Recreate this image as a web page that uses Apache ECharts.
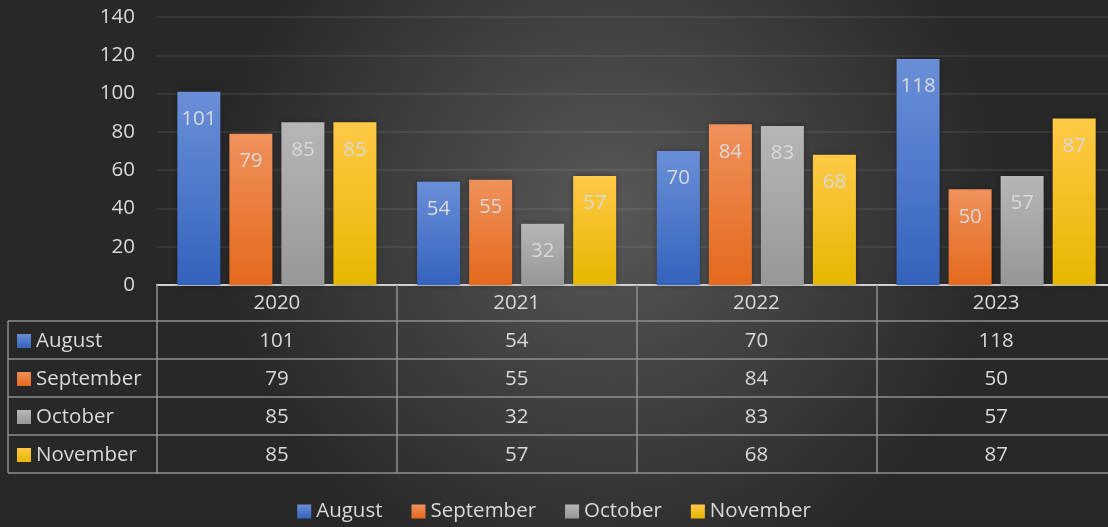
<!DOCTYPE html>
<html>
<head>
<meta charset="utf-8">
<script src="https://cdn.jsdelivr.net/npm/echarts@6/dist/echarts.min.js"></script>
<style>
  html, body { margin: 0; padding: 0; background: #2b2b2b; }
  #chart { width: 1108px; height: 527px; }
</style>
</head>
<body>
<div id="chart"></div>
<script>
// data
var years = ['2020', '2021', '2022', '2023'];
var seriesNames = ['August', 'September', 'October', 'November'];
var august = [101, 54, 70, 118];
var september = [79, 55, 84, 50];
var october = [85, 32, 83, 57];
var november = [85, 57, 68, 87];
var yTicks = [0, 20, 40, 60, 80, 100, 120, 140];

var values = [august, september, october, november];
var gradients = [
  ['#6a8fd8', '#3463bd'],
  ['#f0915c', '#e4691c'],
  ['#b6b6b6', '#979797'],
  ['#ffc946', '#e6b700']
];
var textColor = '#d9d9d9';
var font = 'Open Sans';
var fs = 20.5;
var lineColor = '#8e8e8e';

// layout of the grid and table
var gridLeft = 157, gridTop = 17, gridBottom = 242, gridWidth = 959;
var headH = 36, rowH = 38, tableLeft = 8;

var chart = echarts.init(document.getElementById('chart'));

function grad(c) {
  return new echarts.graphic.LinearGradient(0, 0, 0, 1, [
    { offset: 0, color: c[0] }, { offset: 1, color: c[1] }
  ]);
}

var xAxes = [{
  type: 'category',
  data: years,
  position: 'bottom',
  axisLine: { show: true, lineStyle: { color: '#d0d0d0', width: 2 } },
  axisTick: { show: true, length: headH, lineStyle: { color: lineColor, width: 1.5 } },
  axisLabel: { color: textColor, fontSize: fs, fontFamily: font, margin: 8 }
}];
values.forEach(function (vals, k) {
  xAxes.push({
    type: 'category',
    data: years,
    position: 'bottom',
    offset: headH + rowH * k,
    axisLine: { show: true, lineStyle: { color: lineColor, width: 1.5 } },
    axisTick: { show: true, length: rowH, lineStyle: { color: lineColor, width: 1.5 } },
    axisLabel: {
      color: textColor, fontSize: fs, fontFamily: font, margin: 10,
      formatter: function (v, i) { return String(vals[i]); }
    }
  });
});
// bottom border of the table
xAxes.push({
  type: 'category',
  data: years,
  position: 'bottom',
  offset: headH + rowH * 4,
  axisLine: { show: true, lineStyle: { color: lineColor, width: 1.5 } },
  axisTick: { show: false },
  axisLabel: { show: false }
});

var series = seriesNames.map(function (name, k) {
  return {
    name: name,
    type: 'bar',
    data: values[k],
    barWidth: 43,
    barGap: '21%',
    itemStyle: {
      color: grad(gradients[k]),
      shadowBlur: 6,
      shadowColor: 'rgba(0,0,0,0.35)'
    },
    label: {
      show: true,
      position: 'insideTop',
      distance: 17,
      color: textColor,
      fontSize: fs,
      fontFamily: font
    }
  };
});

// left column of the table: frame lines
var graphics = [];
var y0 = 527 - gridBottom + headH;
for (var r = 0; r <= 4; r++) {
  graphics.push({
    type: 'line',
    shape: { x1: tableLeft, y1: y0 + rowH * r, x2: gridLeft, y2: y0 + rowH * r },
    style: { stroke: lineColor, lineWidth: 1.5 }
  });
}
graphics.push({
  type: 'line',
  shape: { x1: tableLeft, y1: y0, x2: tableLeft, y2: y0 + rowH * 4 },
  style: { stroke: lineColor, lineWidth: 1.5 }
});

chart.setOption({
  backgroundColor: new echarts.graphic.RadialGradient(0.55, 0.4, 0.75, [
    { offset: 0, color: '#585858' },
    { offset: 1, color: '#282828' }
  ]),
  animation: false,
  color: gradients.map(function (c) { return grad(c); }),
  legend: [{
    data: seriesNames,
    bottom: 0,
    left: 'center',
    icon: 'rect',
    itemWidth: 14,
    itemHeight: 14,
    itemGap: 29,
    textStyle: { color: textColor, fontSize: fs, fontFamily: font }
  }, {
    data: seriesNames,
    orient: 'vertical',
    left: 17,
    top: y0 + 9,
    padding: 0,
    icon: 'rect',
    itemWidth: 14,
    itemHeight: 14,
    itemGap: 16,
    selectedMode: false,
    textStyle: { color: textColor, fontSize: fs, fontFamily: font, lineHeight: 22 }
  }],
  grid: {
    left: gridLeft, width: gridWidth, top: gridTop, bottom: gridBottom,
    containLabel: false, outerBoundsMode: 'none'
  },
  xAxis: xAxes,
  yAxis: {
    type: 'value',
    min: yTicks[0],
    max: yTicks[yTicks.length - 1],
    interval: 20,
    axisLine: { show: false },
    axisTick: { show: false },
    axisLabel: { color: textColor, fontSize: fs, fontFamily: font, margin: 22 },
    splitLine: { lineStyle: { color: 'rgba(255,255,255,0.1)', width: 1.5 } }
  },
  series: series,
  graphic: graphics
});
</script>
</body>
</html>
